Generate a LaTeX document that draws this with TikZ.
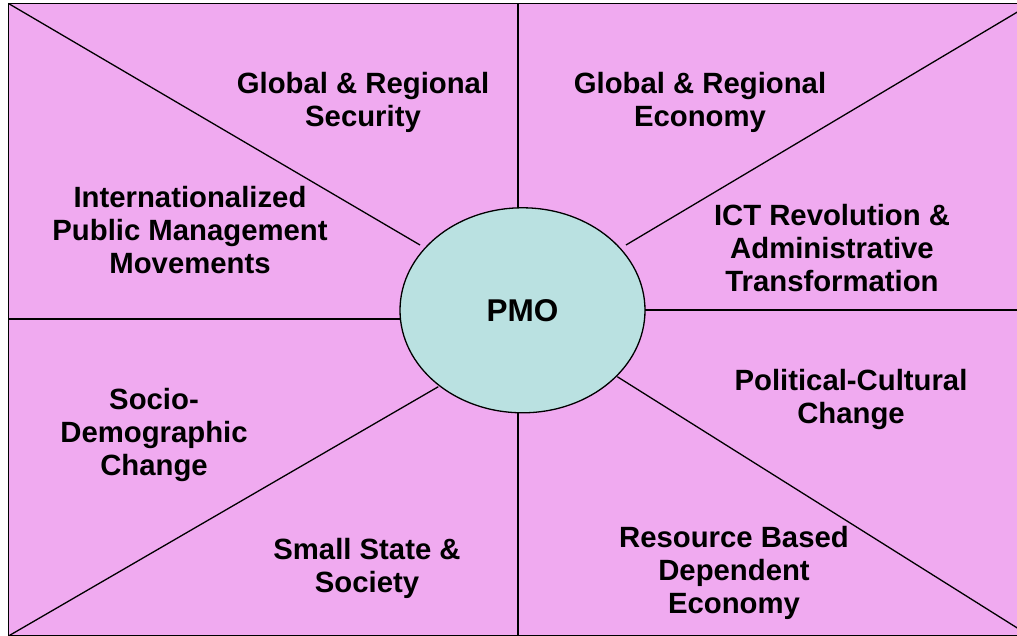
\documentclass[tikz,border=0pt]{standalone}
\usepackage{fontspec}
\setmainfont{Liberation Sans}
\usetikzlibrary{shapes.geometric}
\definecolor{panelpink}{RGB}{240,170,240}
\definecolor{hubcyan}{RGB}{186,225,225}
\tikzset{
  divider/.style={draw=black, line width=1.3pt},
  label/.style={align=center, inner sep=0pt, font=\bfseries\fontsize{29.3pt}{33pt}\selectfont},
  hub/.style={ellipse, draw=black, line width=1.3pt, fill=hubcyan, minimum width=245pt, minimum height=205pt, inner sep=0pt, font=\bfseries\fontsize{31.5pt}{34pt}\selectfont}
}
\begin{document}
\begin{tikzpicture}[x=1pt,y=-1pt]
\clip (0,0) rectangle (1017,636);
\fill[white] (0,0) rectangle (1017,636);
\draw[fill=panelpink, line width=1.6pt] (8.5,3.5) rectangle (1030,636);
% corner / edge coordinates
\coordinate (tl) at (8.5,3.5);
\coordinate (tr) at (1030,4.5);
\coordinate (bl) at (8.5,636);
\coordinate (br) at (1030,636);
\coordinate (tm) at (518,3.5);
\coordinate (bm) at (518,636);
\coordinate (lm) at (8.5,319);
\coordinate (rm) at (1030,310);
% ellipse contact points
\coordinate (etl) at (420,245);
\coordinate (etr) at (626,245);
\coordinate (ebl) at (438.3,386.7);
\coordinate (ebr) at (617.3,376.7);
\coordinate (et) at (518,210);
\coordinate (eb) at (518,410);
\coordinate (el) at (402,319);
\coordinate (er) at (643,310);
\draw[divider] (tl) -- (etl);
\draw[divider] (tr) -- (etr);
\draw[divider] (bl) -- (ebl);
\draw[divider] (br) -- (ebr);
\draw[divider] (tm) -- (et);
\draw[divider] (bm) -- (eb);
\draw[divider] (lm) -- (el);
\draw[divider] (rm) -- (er);
\node[hub] (pmo) at (522.5,310.3) {PMO};
\node[label] (sec) at (363,102) {Global \& Regional\\Security};
\node[label] (eco) at (700,102) {Global \& Regional\\Economy};
\node[label] (ipm) at (190,230) {Internationalized\\Public Management\\Movements};
\node[label] (ict) at (832,248.5) {ICT Revolution \&\\Administrative\\Transformation};
\node[label] (pcc) at (851,399) {Political-Cultural\\Change};
\node[label] (sdc) at (154,435) {Socio-\\Demographic\\Change};
\node[label] (sss) at (367,568.5) {Small State \&\\Society};
\node[label] (rbd) at (734,573) {Resource Based\\Dependent\\Economy};
\end{tikzpicture}
\end{document}
